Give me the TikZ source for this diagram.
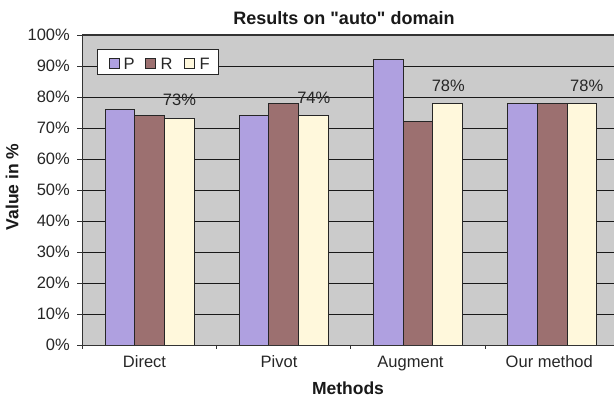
\documentclass[tikz,border=0pt]{standalone}
\usepackage{fontspec}
\setmainfont{Liberation Sans}
% same family without the TeX ligature mapping, so " stays a straight quote
\newfontfamily\plainsans{Liberation Sans}
\definecolor{plotbg}{HTML}{CBCBCB}
\definecolor{barP}{HTML}{AFA0E0}
\definecolor{barR}{HTML}{9C7070}
\definecolor{barF}{HTML}{FFF8DC}
\definecolor{frame}{HTML}{333333}
\begin{document}
\begin{tikzpicture}[x=1pt,y=-1pt,
  lbl/.style={inner sep=0pt,font=\fontsize{16.5}{18}\selectfont,text=black!85},
  boldlbl/.style={inner sep=0pt,font=\fontsize{17.5}{19}\selectfont\bfseries,text=black!90},
  gridline/.style={line width=0.9pt,draw=black!90},
  bar/.style={line width=0.9pt,draw=black!85},
  axisline/.style={line width=0.9pt,draw=black!80}]
\useasboundingbox (0,0) rectangle (614,398);
\clip (0,0) rectangle (614,398);
% plot area and horizontal grid
\fill[plotbg] (82,35) rectangle (625,345);
\foreach \v in {10,20,...,90}
  \draw[gridline] (82,{345-3.1*\v}) -- (625,{345-3.1*\v});
\draw[line width=1.6pt,draw=frame] (82,35) -- (625,35);
% bars: P, R, F per method
\foreach \k/\p/\r/\f in {0/76/74/73, 1/74/78/74, 2/92/72/78, 3/78/78/78} {
  \pgfmathsetmacro\xa{105+134.2*\k}
  \draw[bar,fill=barP] (\xa,345) rectangle ({\xa+29.7},{345-3.1*\p});
  \draw[bar,fill=barR] ({\xa+29.7},345) rectangle ({\xa+59.4},{345-3.1*\r});
  \draw[bar,fill=barF] ({\xa+59.4},345) rectangle ({\xa+89.1},{345-3.1*\f});
}
% axes and ticks
\draw[axisline] (82,35) -- (82,349);
\draw[axisline] (77,345) -- (625,345);
\foreach \k in {1,2,3}
  \draw[axisline] ({82+134.4*\k},345) -- ({82+134.4*\k},349);
\foreach \v in {0,10,...,100} {
  \draw[axisline] (77,{345-3.1*\v}) -- (82,{345-3.1*\v});
  \node[lbl,anchor=east] (ytick\v) at (70,{345-3.1*\v}) {\v\%};
}
% value labels above the F bars
\node[lbl,anchor=base] (vdirect) at (179.5,106) {73\%};
\node[lbl,anchor=base] (vpivot) at (313.8,104) {74\%};
\node[lbl,anchor=base] (vaugment) at (448.3,91.7) {78\%};
\node[lbl,anchor=base] (vours) at (586.7,91.7) {78\%};
% category labels
\node[lbl,anchor=base] (cdirect) at (144.5,367.7) {Direct};
\node[lbl,anchor=base] (cpivot) at (279,367.7) {Pivot};
\node[lbl,anchor=base] (caugment) at (410.5,367.7) {Augment};
\node[lbl,anchor=base] (cours) at (549.3,367.7) {Our method};
% titles
\node[boldlbl,anchor=base,font=\plainsans\fontsize{18}{20}\selectfont\bfseries] (title) at (344,25) {Results on "auto" domain};
\node[boldlbl,anchor=base] (xtitle) at (348,394.5) {Methods};
\node[boldlbl,anchor=base,rotate=90] (ytitle) at (18.3,187) {Value in \%};
% legend
\draw[line width=0.9pt,draw=black!85,fill=white] (97.5,49) rectangle (218,74);
\draw[bar,fill=barP] (109,58.5) rectangle (119,68.5);
\draw[bar,fill=barR] (145,58.5) rectangle (155,68.5);
\draw[bar,fill=barF] (184,58.5) rectangle (194,68.5);
\node[lbl,anchor=base west] (legP) at (123.3,69.5) {P};
\node[lbl,anchor=base west] (legR) at (160.5,69.5) {R};
\node[lbl,anchor=base west] (legF) at (199.5,69.5) {F};
\end{tikzpicture}
\end{document}
